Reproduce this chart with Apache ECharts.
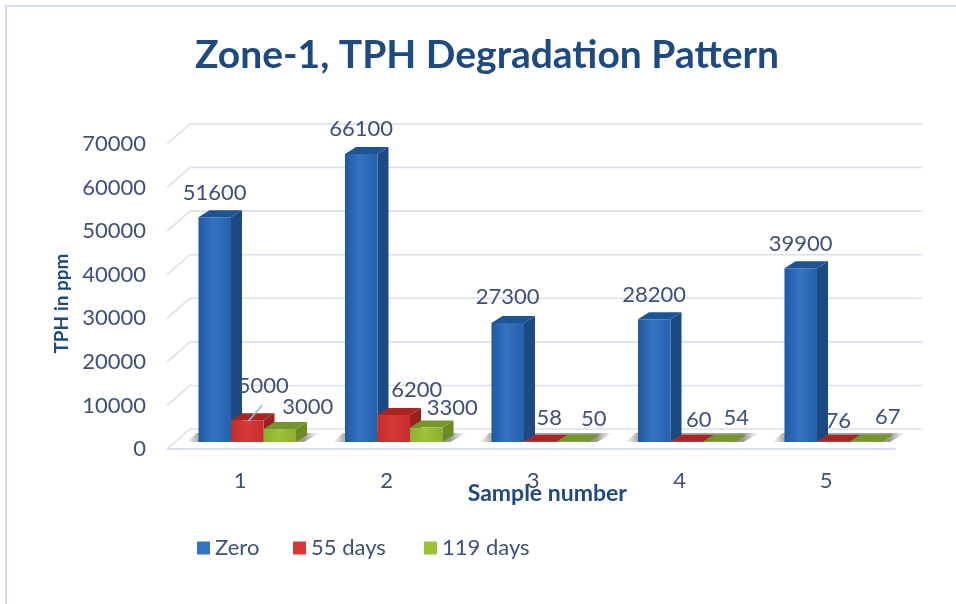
<!DOCTYPE html>
<html><head><meta charset="utf-8">
<style>html,body{margin:0;padding:0;background:#fff}#c{width:956px;height:604px}</style>
<script src="https://cdn.jsdelivr.net/npm/echarts@6/dist/echarts.min.js"></script>
</head><body><div id="c"></div>
<script>
const categories = ['1','2','3','4','5'];
const zero = [51600,66100,27300,28200,39900];
const days55 = [5000,6200,58,60,76];
const days119 = [3000,3300,50,54,67];
const yTicks = [0,10000,20000,30000,40000,50000,60000,70000];

// label nudges from the bar's front-top centre, in pixels
const nudgeZero = [[0,-24],[0,-25],[0,-26],[0,-24],[0,-24]];
const nudge55 = [[16,-34],[23,-25],[9,-24],[12,-22],[5,-21]];
const nudge119 = [[28,-22],[26,-20],[21,-23],[17,-24],[22,-25]];

const FONT = 'Lato, "Open Sans", sans-serif';
const TXT = '#3f5078', HEAD = '#1f4a80', GRID = '#dbe0f0';
const BACK_X = 23, BACK_Y = -20, FLOOR_X = 7, FLOOR_Y = -7, DX = 11, DY = -7;
const BAR_FRAC = 0.222;

const palette = {
  Zero: {front:['#2258a0','#3374c2','#2560aa'], side:'#1c4a80', top:'#1d5594'},
  '55 days': {front:['#c22c2c','#d53a36','#c42e2e'], side:'#9a1f1f', top:'#aa2424'},
  '119 days': {front:['#8bb02f','#9cc23a','#8cb030'], side:'#6a8c25', top:'#75962a'}
};

function barSeries(name, values, slot, nudges) {
  const c = palette[name];
  return {
    name, type:'custom', coordinateSystem:'cartesian2d', z:5,
    itemStyle:{color:c.front[1]},
    data: values.map((v,i)=>[i,v]),
    encode:{x:0,y:1},
    renderItem(params, api){
      const i = api.value(0), v = api.value(1);
      const top = api.coord([i,v]), base = api.coord([i,0]);
      const w = api.size([1,0])[0]*BAR_FRAC;
      const x0 = base[0]+FLOOR_X+(slot-0.5)*w - w, x1 = x0+w;
      const yb = base[1]+FLOOR_Y, yt = top[1]+FLOOR_Y;
      const n = nudges[i];
      return {type:'group', children:[
        {type:'polygon',shape:{points:[[x1,yt],[x1+DX,yt+DY],[x1+DX,yb+DY],[x1,yb]]},style:{fill:c.side}},
        {type:'polygon',shape:{points:[[x0,yt],[x0+DX,yt+DY],[x1+DX,yt+DY],[x1,yt]]},style:{fill:c.top}},
        {type:'rect',shape:{x:x0,y:yt,width:w,height:Math.max(yb-yt,0)},
          style:{fill:{type:'linear',x:0,y:0,x2:1,y2:0,colorStops:[
            {offset:0,color:c.front[0]},{offset:.45,color:c.front[1]},{offset:1,color:c.front[2]}]}}},
        {type:'text',z2:50,style:{text:String(v),x:(x0+x1)/2+n[0],y:yt+n[1],
          fill:TXT,font:'22px '+FONT,align:'center',verticalAlign:'middle'}}
      ]};
    }
  };
}

const legendText = {color:TXT,fontFamily:FONT,fontSize:22};
const legendBase = {top:532,itemWidth:13,itemHeight:13,icon:'rect',textStyle:legendText};

const chart = echarts.init(document.getElementById('c'),null,{renderer:'canvas'});
chart.setOption({
  animation:false,
  backgroundColor:'#fff',
  title:{text:'Zone-1, TPH Degradation Pattern',left:482,top:31,textAlign:'center',
    textStyle:{color:HEAD,fontFamily:FONT,fontWeight:'bold',fontSize:39}},
  legend:[
    {...legendBase,left:192,data:['Zero']},
    {...legendBase,left:288,data:['55 days']},
    {...legendBase,left:419,data:['119 days']}
  ],
  grid:{left:167,top:144,width:732.5,height:305},
  xAxis:{type:'category',data:categories,
    axisLine:{show:false},axisTick:{show:false},
    axisLabel:{color:TXT,fontFamily:FONT,fontSize:22,margin:21},
    name:'Sample number',nameLocation:'middle',nameGap:33,nameMoveOverlap:false,
    nameTextStyle:{color:HEAD,fontFamily:FONT,fontWeight:'bold',fontSize:23,padding:[0,0,0,28]}},
  yAxis:{type:'value',min:0,max:70000,interval:10000,
    axisLine:{show:false},axisTick:{show:false},splitLine:{show:false},
    axisLabel:{color:TXT,fontFamily:FONT,fontSize:22,margin:21,formatter:v=>String(v)},
    name:'TPH in ppm',nameLocation:'middle',nameGap:95,nameRotate:90,
    nameTextStyle:{color:HEAD,fontFamily:FONT,fontWeight:'bold',fontSize:19,padding:[0,14,0,0]}},
  graphic:[
    {type:'rect',z:-1,shape:{x:5,y:5,width:2,height:599},style:{fill:'#d3dcf1'}},
    {type:'rect',z:-1,shape:{x:5,y:5,width:951,height:2},style:{fill:'#d3dcf1'}}
  ],
  series:[
    {type:'custom',name:'walls',coordinateSystem:'cartesian2d',z:1,silent:true,
     data:yTicks.map(t=>[0,t]),encode:{x:0,y:1},
     renderItem(params,api){
       const t=api.value(1), a=api.coord([0,t]);
       const w=api.size([1,0])[0];
       const x0=a[0]-w/2, x1=x0+w*5;
       const kids=[
        {type:'polyline',shape:{points:[[x0,a[1]],[x0+BACK_X,a[1]+BACK_Y],[x1+BACK_X,a[1]+BACK_Y]]},
         style:{stroke:GRID,lineWidth:1.6,fill:null}}];
       if(t===0) kids.push({type:'line',shape:{x1:x0,y1:a[1],x2:x1-4,y2:a[1]},style:{stroke:GRID,lineWidth:2}});
       return {type:'group',children:kids};
     }},
    {type:'custom',name:'shadow',coordinateSystem:'cartesian2d',z:2,silent:true,
     data:categories.map((c,i)=>[i,0]),encode:{x:0,y:1},
     renderItem(params,api){
       const b=api.coord([api.value(0),0]);
       const w=api.size([1,0])[0]*BAR_FRAC;
       const x0=b[0]+FLOOR_X-1.5*w, x1=x0+3*w, y=b[1]+FLOOR_Y;
       return {type:'polygon',shape:{points:[[x0-12,y],[x0-2,y-9],[x1+24,y-9],[x1+8,y]]},
        style:{fill:{type:'linear',x:0,y:0,x2:1,y2:0,colorStops:[
          {offset:0,color:'rgba(150,150,140,0)'},{offset:.08,color:'rgba(150,150,140,.7)'},
          {offset:.88,color:'rgba(130,130,120,.8)'},{offset:1,color:'rgba(170,170,160,0)'}]}}};
     }},
    barSeries('Zero',zero,0,nudgeZero),
    barSeries('55 days',days55,1,nudge55),
    barSeries('119 days',days119,2,nudge119),
    {type:'custom',name:'leader',coordinateSystem:'cartesian2d',z:8,silent:true,
     data:[[0,days55[0]]],encode:{x:0,y:1},
     renderItem(params,api){
       const p=api.coord([api.value(0),api.value(1)]);
       const x=p[0]+FLOOR_X;
       return {type:'line',shape:{x1:x+1,y1:p[1]-7+1,x2:x+15,y2:p[1]-7-15},style:{stroke:'#8fc0dc',lineWidth:1.5}};
     }}
  ]
});
</script></body></html>
